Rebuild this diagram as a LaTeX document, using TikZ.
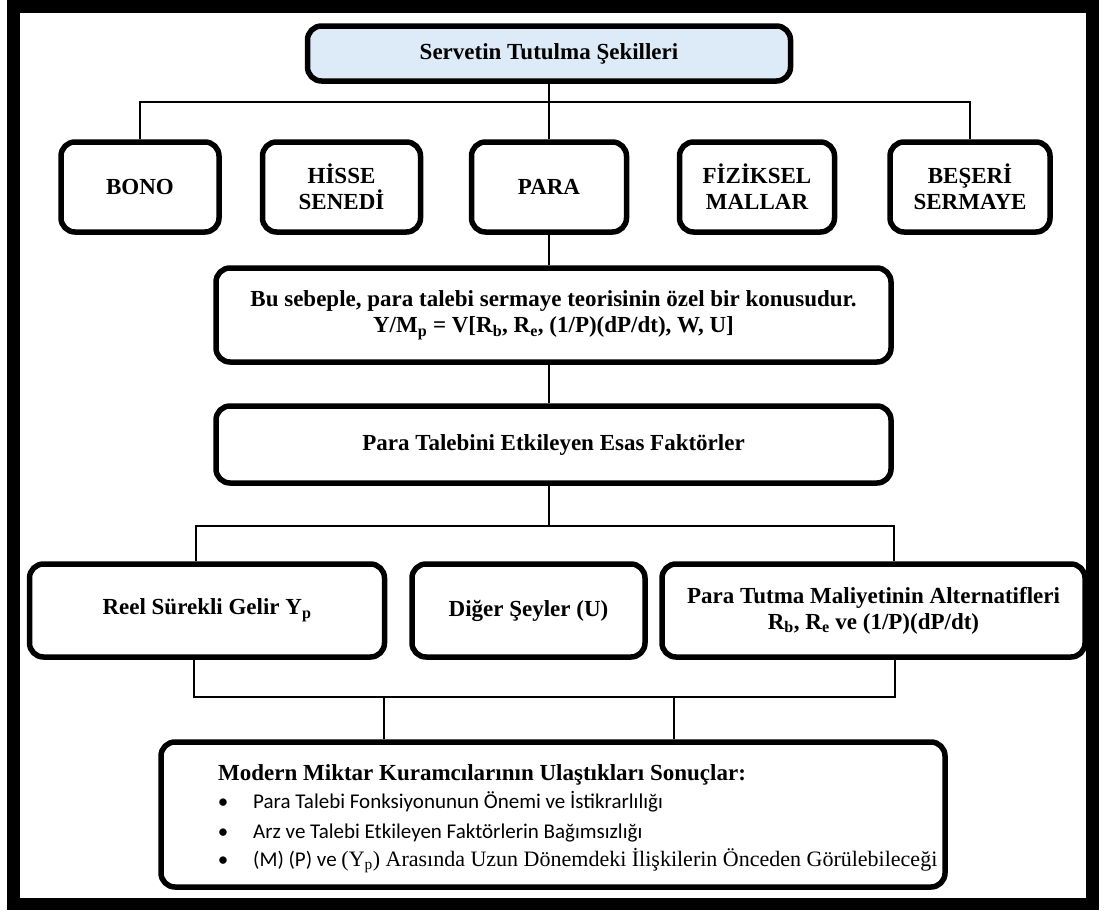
\documentclass[tikz,border=0pt]{standalone}
\usepackage{fontspec}
\setmainfont{Liberation Serif}
\newfontfamily\clb{Carlito}
\definecolor{mavi}{RGB}{221,234,247}
\tikzset{bx/.append style={draw, rounded corners=14pt, line width=5.5pt, align=center, inner sep=0pt, font=\fontsize{23}{26}\selectfont\bfseries}}
\tikzset{mv/.append style={fill=mavi}}
\tikzset{ln/.append style={line width=2pt}}
\tikzset{tx/.append style={inner sep=0pt, anchor=base west}}
\tikzset{bt/.append style={inner sep=0pt, anchor=base, font=\clb\fontsize{21}{24}\selectfont}}

\begin{document}
\begin{tikzpicture}[x=1pt,y=-1pt]
  \useasboundingbox (0,0) rectangle (1105,910);
  \draw[line width=12.5pt] (13.5,6.5) rectangle (1092.5,904);
  % kutular
  \node[bx,mv,minimum width=483pt,minimum height=55pt] (ust) at (549,53.5) {Servetin Tutulma Şekilleri};
  \node[bx,minimum width=158pt,minimum height=90pt] (bono) at (140,187) {BONO};
  \node[bx,minimum width=158pt,minimum height=90pt] (hisse) at (341.5,187) {HİSSE\\SENEDİ};
  \node[bx,minimum width=155pt,minimum height=90pt] (para) at (549,187) {PARA};
  \node[bx,minimum width=155pt,minimum height=90pt] (fiz) at (757,187) {FİZİKSEL\\MALLAR};
  \node[bx,minimum width=160pt,minimum height=90pt] (beseri) at (970,187) {BEŞERİ\\SERMAYE};
  \node[bx,minimum width=675pt,minimum height=94pt] (sebep) at (553.5,315) {Bu sebeple, para talebi sermaye teorisinin özel bir konusudur.\\Y/M\textsubscript{p} = V[R\textsubscript{b}, R\textsubscript{e}, (1/P)(dP/dt), W, U]};
  \node[bx,minimum width=675pt,minimum height=77pt] (talep) at (553.5,444.5) {Para Talebini Etkileyen Esas Faktörler};
  \node[bx,minimum width=355pt,minimum height=93pt] (reel) at (207,610.5) {Reel Sürekli Gelir Y\textsubscript{p}};
  \node[bx,minimum width=233pt,minimum height=93pt] (diger) at (528.5,610.5) {Diğer Şeyler (U)};
  \node[bx,minimum width=423pt,minimum height=93pt] (alt) at (873.5,610.5) {Para Tutma Maliyetinin Alternatifleri\\R\textsubscript{b}, R\textsubscript{e} ve (1/P)(dP/dt)};
  \node[bx,minimum width=784pt,minimum height=145pt] (sonuc) at (553,814.5) {};
  % sonuclar
  \node[tx,font=\fontsize{23}{26}\selectfont\bfseries] (baslik) at (218,780) {Modern Miktar Kuramcılarının Ulaştıkları Sonuçlar:};
  \node[bt] (m1) at (223,808) {•};
  \node[bt] (m2) at (223,838) {•};
  \node[bt] (m3) at (223,866) {•};
  \node[tx,font=\clb\fontsize{21}{24}\selectfont] (s1) at (253,808) {Para Talebi Fonksiyonunun Önemi ve İstikrarlılığı};
  \node[tx,font=\clb\fontsize{21}{24}\selectfont] (s2) at (253,838) {Arz ve Talebi Etkileyen Faktörlerin Bağımsızlığı};
  \node[tx,font=\clb\fontsize{21}{24}\selectfont] (s3) at (253,866) {(M) (P) ve {\rmfamily\fontsize{22}{24}\selectfont (Y\textsubscript{p}) Arasında Uzun Dönemdeki İlişkilerin Önceden Görülebileceği}};
  % baglantilar
  \coordinate (k1) at (549,102);
  \draw[ln] (bono.north) |- (k1) -| (beseri.north);
  \draw[ln] (ust.south) -- (para.north);
  \draw[ln] (para.south) -- (para.south |- sebep.north);
  \draw[ln] (para.south |- sebep.south) -- (para.south |- talep.north);
  \coordinate (k2l) at (196,526);
  \coordinate (k2r) at (894,526);
  \draw[ln] (para.south |- talep.south) -- (para.south |- k2l);
  \draw[ln] (k2l |- reel.north) -- (k2l) -- (k2r) -- (k2r |- alt.north);
  \coordinate (k3l) at (194,697);
  \coordinate (k3r) at (895,697);
  \draw[ln] (k3l |- reel.south) -- (k3l) -- (k3r) -- (k3r |- alt.south);
  \coordinate (k3a) at (384,697);
  \coordinate (k3b) at (674,697);
  \draw[ln] (k3a) -- (k3a |- sonuc.north);
  \draw[ln] (k3b) -- (k3b |- sonuc.north);
\end{tikzpicture}
\end{document}
